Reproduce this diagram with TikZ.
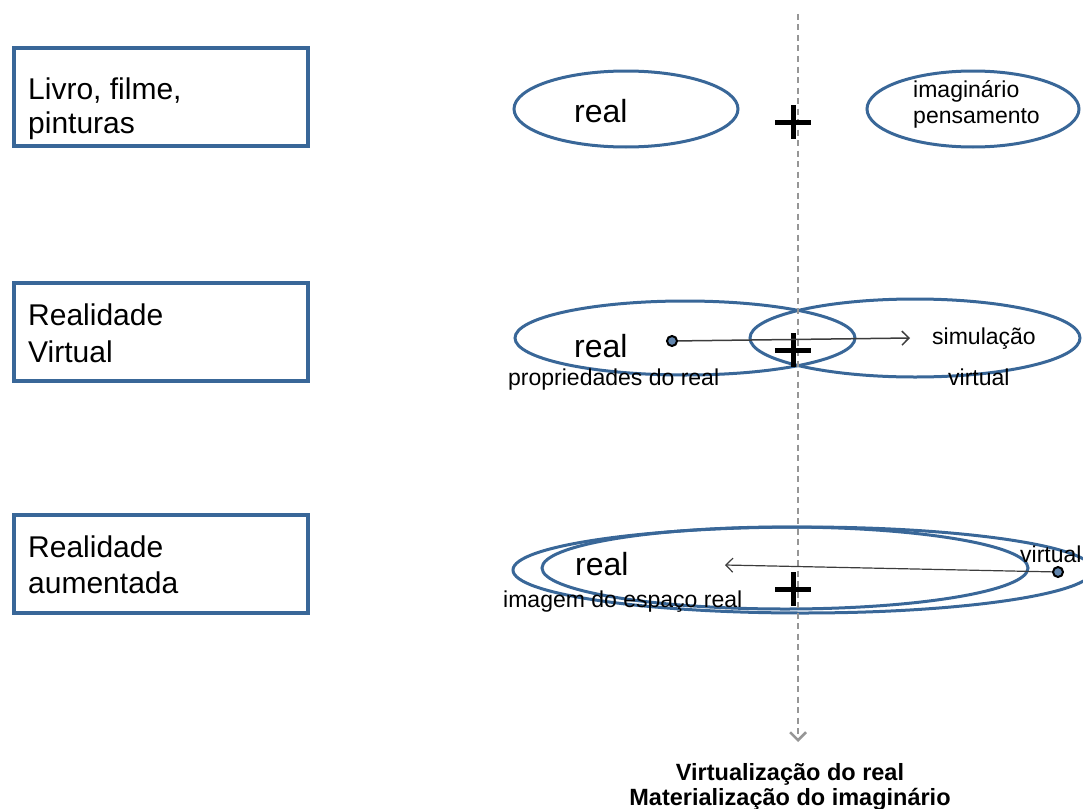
\documentclass[tikz,border=0pt]{standalone}
\usepackage{fontspec}
\setmainfont{Liberation Sans}
\usetikzlibrary{arrows.meta,shapes.geometric}
\definecolor{ebl}{RGB}{57,103,152}
\definecolor{dgray}{RGB}{150,150,150}
\definecolor{lgray}{RGB}{60,60,60}
\begin{document}
\begin{tikzpicture}[x=1pt,y=-1pt,
  boxst/.style={draw=ebl, line width=4pt, rectangle, minimum width=294pt, minimum height=98pt, inner sep=0pt},
  ell/.style={draw=ebl, line width=3pt, ellipse, inner sep=0pt},
  btxt/.style={anchor=base west, inner sep=0pt, font=\fontsize{30}{36}\selectfont},
  bigtxt/.style={anchor=base west, inner sep=0pt, font=\fontsize{32}{38}\selectfont},
  smtxt/.style={anchor=base west, inner sep=0pt, font=\fontsize{23}{27}\selectfont},
  foottxt/.style={anchor=base, inner sep=0pt, font=\bfseries\fontsize{23.5}{27}\selectfont},
  dotst/.style={circle, draw=black, fill=ebl!80, line width=2pt, minimum size=10pt, inner sep=0pt},
  arr/.style={draw=lgray, line width=1.5pt, -{Straight Barb[length=7pt,width=14pt]}},
  plusmk/.pic={\draw[line width=5pt] (-18,0)--(18,0) (0,-17)--(0,17);}
]
\useasboundingbox (0,0) rectangle (1083,808);
\clip (0,0) rectangle (1083,808);

% left boxes
\node[boxst] (b1) at (161,97) {};
\node[boxst] (b2) at (161,332) {};
\node[boxst] (b3) at (161,564) {};
\node[btxt] (t1a) at (28,99) {Livro, filme,};
\node[btxt] (t1b) at (28,133) {pinturas};
\node[btxt] (t2a) at (28,325) {Realidade};
\node[btxt] (t2b) at (28,362) {Virtual};
\node[btxt] (t3a) at (28,557) {Realidade};
\node[btxt] (t3b) at (28,593) {aumentada};

% row 1
\node[ell, minimum width=224pt, minimum height=76pt] (e1l) at (626,109) {};
\node[ell, minimum width=212pt, minimum height=76pt] (e1r) at (973,109) {};
\node[bigtxt] (r1) at (574,122) {real};
\node[smtxt] (im1) at (913,97) {imaginário};
\node[smtxt] (im2) at (913,123) {pensamento};

% row 2
\node[ell, minimum width=340pt, minimum height=74pt] (e2l) at (685,338) {};
\node[ell, minimum width=330pt, minimum height=78pt] (e2r) at (915,338) {};
\node[bigtxt] (r2) at (574,357) {real};
\node[smtxt] (sim) at (932,344) {simulação};
\node[smtxt] (prop) at (508,385) {propriedades do real};
\node[smtxt] (virt2) at (948,385) {virtual};

% row 3
\node[ell, minimum width=580pt, minimum height=86pt] (e3o) at (803,570) {};
\node[ell, minimum width=486pt, minimum height=82pt] (e3i) at (785,568) {};
\node[bigtxt] (r3) at (575,575) {real};
\node[smtxt] (img) at (503,607) {imagem do espaço real};
\node[smtxt] (virt3) at (1020,562) {virtual};

% dashed axis
\coordinate (axtop) at (798,14);
\coordinate (axbot) at (798,742);
\draw[draw=dgray, line width=2.5pt, dash pattern=on 6pt off 4.5pt,
  -{Straight Barb[length=8pt,width=16pt]}] (axtop) -- (axbot);

% plus signs
\pic at (793,122) {plusmk};
\pic at (793,350) {plusmk};
\pic at (793,589) {plusmk};

% arrows
\node[dotst] (d2) at (672,341) {};
\coordinate (a2) at (910,338);
\draw[arr] (d2) -- (a2);
\node[dotst] (d3) at (1058,572) {};
\coordinate (a3) at (725,565);
\draw[arr, line width=1.2pt] (d3) -- (a3);

% footer
\node[foottxt] (f1) at (790,780) {Virtualização do real};
\node[foottxt] (f2) at (790,805) {Materialização do imaginário};
\end{tikzpicture}
\end{document}
